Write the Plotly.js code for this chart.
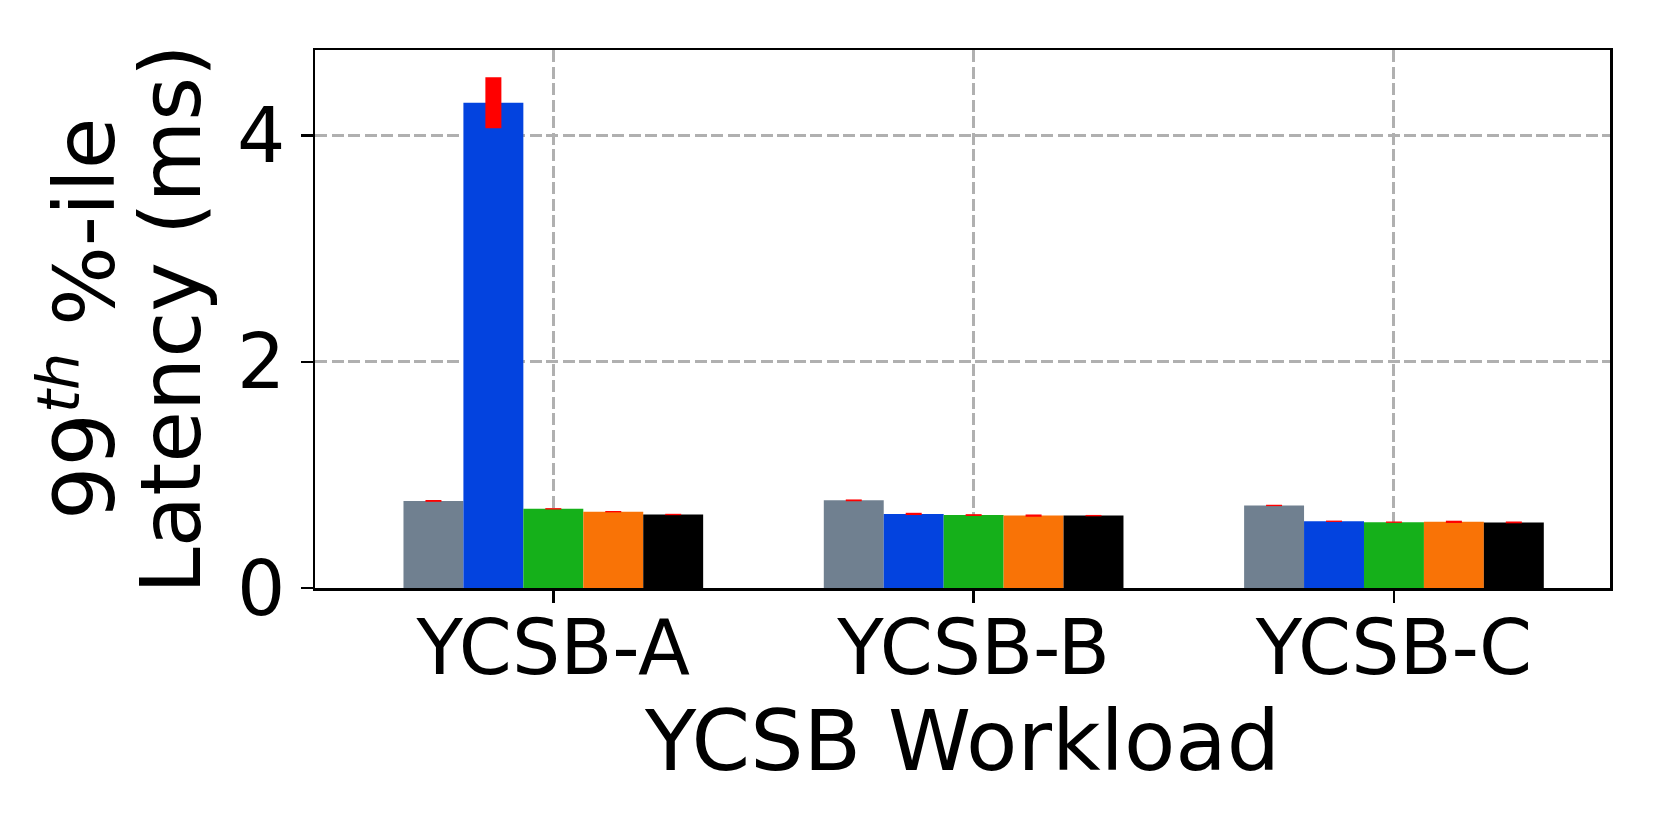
<!DOCTYPE html>
<html>
<head>
<meta charset="utf-8">
<script src="https://cdn.plot.ly/plotly-3.0.1.min.js"></script>
<style>
  html, body { margin: 0; padding: 0; background: #fff; }
  #plot1 { width: 1661px; height: 830px; }
</style>
</head>
<body>
<div id="plot1"></div>
<script>
// Workloads on the x axis
const workloads = ["YCSB-A", "YCSB-B", "YCSB-C"];

// 99th percentile latency (ms) per configuration, one array per bar colour
const seriesGray = [0.77, 0.775, 0.73];
const seriesBlue = [4.29, 0.655, 0.59];
const seriesGreen = [0.70, 0.645, 0.582];
const seriesOrange = [0.675, 0.64, 0.585];
const seriesBlack = [0.65, 0.64, 0.58];

// Error bar sizes (ms)
const errGray = [0.008, 0.008, 0.006];
const errBlue = [0.225, 0.01, 0.006];
const errGreen = [0.006, 0.008, 0.006];
const errOrange = [0.006, 0.01, 0.01];
const errBlack = [0.006, 0.006, 0.008];

// Y axis tick labels
const yTicks = [0, 2, 4];

const barColors = ["#708090", "#0343df", "#15b01a", "#f97306", "#000000"];

function makeTrace(values, errs, color) {
  return {
    x: workloads,
    y: values,
    type: "bar",
    marker: { color: color, line: { width: 0 } },
    error_y: {
      type: "data",
      array: errs,
      visible: true,
      color: "#ff0000",
      thickness: 16,
      width: 0,
    },
    showlegend: false,
    hoverinfo: "y",
  };
}

const traces = [
  makeTrace(seriesGray, errGray, barColors[0]),
  makeTrace(seriesBlue, errBlue, barColors[1]),
  makeTrace(seriesGreen, errGreen, barColors[2]),
  makeTrace(seriesOrange, errOrange, barColors[3]),
  makeTrace(seriesBlack, errBlack, barColors[4]),
];

// shared axis styling (matplotlib-like box, dashed grey grid)
const axisStyle = {
  showline: true,
  mirror: true,
  linecolor: "#000000",
  linewidth: 2.5,
  ticks: "outside",
  ticklen: 12,
  tickwidth: 2.5,
  tickcolor: "#000000",
  tickfont: { size: 76 },
  showgrid: true,
  gridcolor: "#b0b0b0",
  gridwidth: 3,
  griddash: "12px,4.5px",
  zeroline: false,
  automargin: false,
};

const layout = {
  width: 1661,
  height: 830,
  paper_bgcolor: "#ffffff",
  plot_bgcolor: "#ffffff",
  font: { family: "DejaVu Sans, sans-serif", color: "#000000" },
  barmode: "group",
  bargap: 0.287,
  bargroupgap: 0,
  margin: { l: 315, r: 51, t: 50, b: 242 },
  xaxis: Object.assign({}, axisStyle, {
    type: "category",
    range: [-0.567, 2.514],
    ticklabelstandoff: -20,
    title: { text: "YCSB Workload", font: { size: 84 }, standoff: 0 },
  }),
  yaxis: Object.assign({}, axisStyle, {
    range: [0, 4.757],
    tickvals: yTicks,
    ticktext: yTicks.map(String),
  }),
  // two-line y title drawn as rotated annotations so the line spacing matches
  annotations: [
    {
      text: "99<sup><i>th</i></sup> %-ile",
      xref: "paper", yref: "paper",
      x: 0, y: 0.5,
      xanchor: "center", yanchor: "middle",
      xshift: 79 - 315,
      textangle: -90,
      showarrow: false,
      font: { size: 84 },
    },
    {
      text: "Latency (ms)",
      xref: "paper", yref: "paper",
      x: 0, y: 0.5,
      xanchor: "center", yanchor: "middle",
      xshift: 171 - 315,
      textangle: -90,
      showarrow: false,
      font: { size: 84 },
    },
  ],
};

Plotly.newPlot("plot1", traces, layout, { displayModeBar: false, staticPlot: true });
</script>
</body>
</html>
